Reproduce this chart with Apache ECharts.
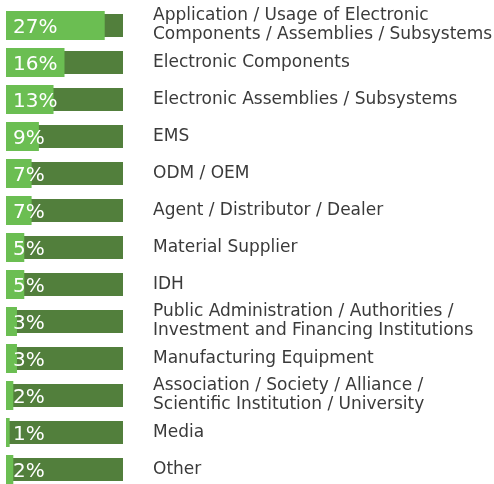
<!DOCTYPE html>
<html>
<head>
<meta charset="utf-8">
<script src="https://cdn.jsdelivr.net/npm/echarts@6/dist/echarts.min.js"></script>
<style>
  html, body { margin: 0; padding: 0; background: #fff; }
  #main { width: 494px; height: 484px; }
</style>
</head>
<body>
<div id="main"></div>
<script>
// data
const categories = [
    'Application / Usage of Electronic\nComponents / Assemblies / Subsystems',
    'Electronic Components',
    'Electronic Assemblies / Subsystems',
    'EMS',
    'ODM / OEM',
    'Agent / Distributor / Dealer',
    'Material Supplier',
    'IDH',
    'Public Administration / Authorities /\nInvestment and Financing Institutions',
    'Manufacturing Equipment',
    'Association / Society / Alliance /\nScientific Institution / University',
    'Media',
    'Other'
];
const shares = [27, 16, 13, 9, 7, 7, 5, 5, 3, 3, 2, 1, 2];
const trackMax = 32; // dark background bar length

let chartDom = document.getElementById('main');
let myChart = echarts.init(chartDom);
let option;

option = {
    animation: false,
    grid: {
        left: 6,
        top: 7,
        width: 117,
        height: 481,
        outerBoundsMode: 'none',
        containLabel: false
    },
    xAxis: {
        type: 'value',
        min: 0,
        max: trackMax,
        show: false
    },
    yAxis: [
        {
            type: 'category',
            data: categories,
            inverse: true,
            position: 'right',
            axisLine: { show: false },
            axisTick: { show: false },
            axisLabel: {
                margin: 30,
                align: 'left',
                color: '#3a3a3a',
                fontFamily: 'DejaVu Sans',
                fontSize: 17,
                lineHeight: 19
            }
        },
        {
            // second (hidden) axis so the thinner track bar stays centred
            type: 'category',
            data: categories,
            inverse: true,
            show: false
        }
    ],
    series: [
        {
            // dark track behind every bar
            name: 'track',
            type: 'bar',
            yAxisIndex: 1,
            data: categories.map(() => trackMax),
            barWidth: 23,
            itemStyle: { color: '#527f3c' },
            silent: true
        },
        {
            name: 'share',
            type: 'bar',
            yAxisIndex: 0,
            data: shares,
            barWidth: 29,
            itemStyle: { color: '#6bbe52' },
            label: {
                show: true,
                position: 'insideLeft',
                distance: 7,
                offset: [0, 2],
                formatter: '{c}%',
                color: '#fff',
                fontFamily: 'DejaVu Sans',
                fontSize: 20
            }
        }
    ]
};

option && myChart.setOption(option);
</script>
</body>
</html>
